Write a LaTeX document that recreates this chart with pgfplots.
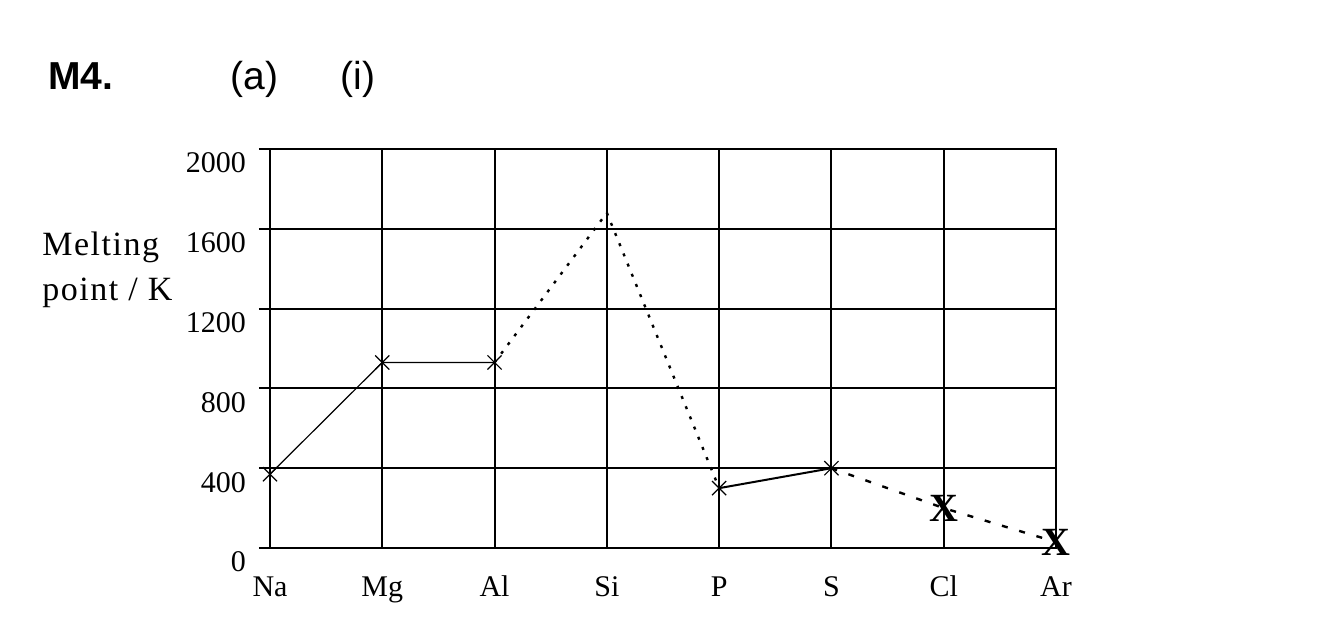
\documentclass[border=0pt]{standalone}
\usepackage{fontspec}
\setmainfont{Liberation Serif}
\newfontfamily\arial{Liberation Sans}
\newfontfamily\spaced[LetterSpace=4.5]{Liberation Serif}
\usepackage{pgfplots}
\pgfplotsset{compat=1.18}
\begin{document}
\begin{tikzpicture}[x=1pt,y=1pt]
\useasboundingbox[fill=white] (-135,-39.5) rectangle (532,274);
\node[anchor=base west, inner sep=0, font=\arial\bfseries\fontsize{19.5}{24}\selectfont] at (-111,229) {M4.};
\node[anchor=base west, inner sep=0, font=\arial\fontsize{19.5}{24}\selectfont] at (-20,229) {(a)};
\node[anchor=base west, inner sep=0, font=\arial\fontsize{19.5}{24}\selectfont] at (35,229) {(i)};
\begin{axis}[at={(0,0)}, anchor=south west, scale only axis,
  width=393pt, height=199.5pt,
  xmin=0, xmax=7, ymin=0, ymax=2000,
  xtick={0,...,7}, xticklabels={Na,Mg,Al,Si,P,S,Cl,Ar},
  ytick={0,400,...,2000},
  grid=major, grid style={black, line width=1pt},
  axis line style={black, line width=1pt},
  ytick pos=left, tick align=outside, major tick length=5.5pt,
  xtick style={draw=none}, ytick style={black, line width=1pt},
  tick label style={font=\fontsize{15}{18}\selectfont},
  /pgf/number format/assume math mode=true,
  /pgf/number format/1000 sep={},
  yticklabel style={anchor=east, xshift=-3pt, yshift=-7pt},
  xticklabel style={anchor=north, text height=10pt, text depth=3pt, yshift=-5pt},
  clip=false]
\addplot[black, line width=0.6pt, mark=x, mark size=5pt] coordinates {(0,370)(1,930)(2,930)};
\addplot[black, line width=1.2pt, dash pattern=on 1.5pt off 4pt] coordinates {(2,930)(3,1680)(4,300)};
\addplot[black, line width=1pt, mark=x, mark size=5pt, mark options={line width=0.6pt}] coordinates {(4,300)(5,400)};
\addplot[black, line width=1.2pt, dash pattern=on 3pt off 6pt] coordinates {(5,400)(6,200)(7,30)};
\addplot[only marks, mark=text, text mark={\bfseries\fontsize{20}{20}\selectfont X}] coordinates {(6,200)(7,30)};
\end{axis}
\node[anchor=west, align=left, inner sep=0, font=\spaced\fontsize{17}{22.5}\selectfont] at (-114,139) {Melting\\point / K};
\end{tikzpicture}
\end{document}
